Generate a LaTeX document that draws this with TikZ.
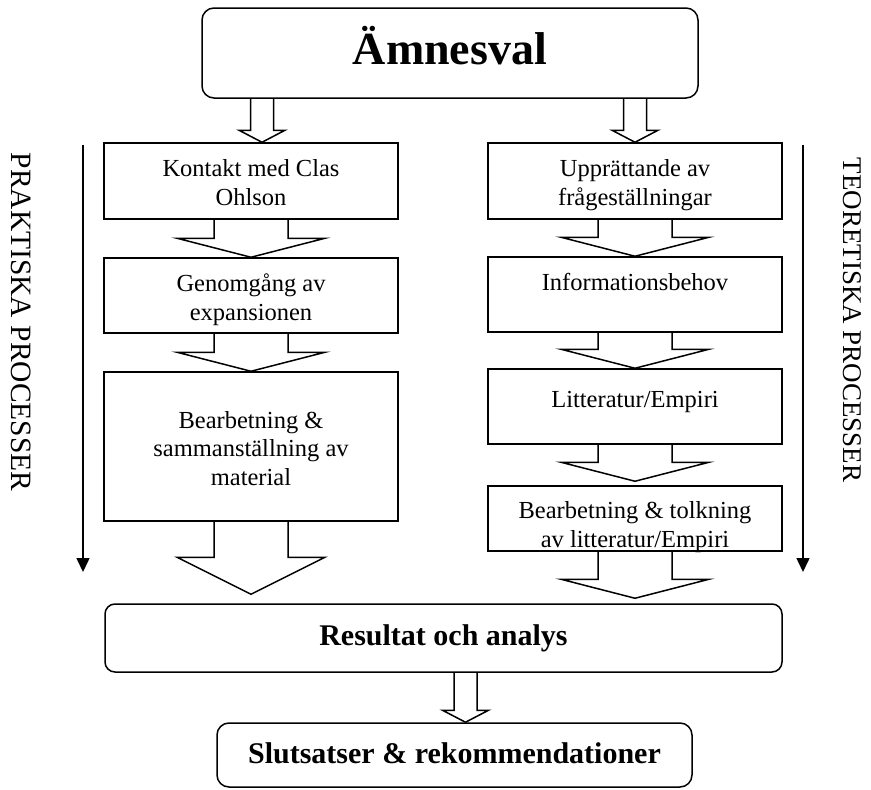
\documentclass[tikz,border=0pt]{standalone}
\usepackage{fontspec}
\setmainfont{Liberation Serif}
\usepackage{tikz}
\usetikzlibrary{calc,arrows.meta}
\pgfdeclarelayer{edgelayer}
\pgfdeclarelayer{nodelayer}
\pgfsetlayers{edgelayer,nodelayer,main}
\tikzset{shafthalf/.store in=\shafthalf, headhalf/.store in=\headhalf, headlen/.store in=\headlen}
\tikzstyle{box}=[rectangle, draw=black, fill=white, line width=1.5pt, inner sep=0pt]
\tikzstyle{roundbox}=[box, rounded corners=12pt]
\tikzstyle{boxtext}=[align=center, inner sep=0pt, anchor=base, font=\fontsize{24.5}{28.5}\selectfont]
\tikzstyle{boldtext}=[inner sep=0pt, anchor=base, font=\fontsize{30}{34}\selectfont\bfseries]
\tikzstyle{sidetext}=[inner sep=0pt, rotate=-90, font=\fontsize{28}{32}\selectfont]
\tikzstyle{timeline}=[draw=black, line width=1.5pt, -{Triangle[width=13pt,length=14pt]}]
\tikzstyle{fatarrow}=[draw=black, fill=white, line width=1.5pt, to path={let \p1=(\tikztostart), \p2=(\tikztotarget) in (\x1-\shafthalf,\y1) -- (\x1-\shafthalf,\y2+\headlen) -- (\x1-\headhalf,\y2+\headlen) -- (\x1,\y2) -- (\x1+\headhalf,\y2+\headlen) -- (\x1+\shafthalf,\y2+\headlen) -- (\x1+\shafthalf,\y1)}]
\tikzstyle{smallarrow}=[fatarrow, shafthalf=11.5pt, headhalf=23pt, headlen=12pt]
\tikzstyle{bigarrow}=[fatarrow, shafthalf=37pt, headhalf=74pt, headlen=19pt]

\begin{document}
\begin{tikzpicture}[x=1pt, y=-1pt]
	\useasboundingbox (0,0) rectangle (871,790);
	\begin{pgfonlayer}{nodelayer}
		\node [style=roundbox, minimum width=496pt, minimum height=90pt] (0) at (450,53) {};
		\node [style=box, minimum width=294pt, minimum height=76pt] (1) at (251,181) {};
		\node [style=box, minimum width=294pt, minimum height=75pt] (2) at (251,295.5) {};
		\node [style=box, minimum width=294pt, minimum height=149pt] (3) at (251,446.5) {};
		\node [style=box, minimum width=294pt, minimum height=76pt] (4) at (635,181) {};
		\node [style=box, minimum width=294pt, minimum height=75pt] (5) at (635,294.5) {};
		\node [style=box, minimum width=294pt, minimum height=75pt] (6) at (635,406.5) {};
		\node [style=box, minimum width=294pt, minimum height=65pt] (7) at (635,518.5) {};
		\node [style=roundbox, rounded corners=10pt, minimum width=677pt, minimum height=68pt] (8) at (443.5,638) {};
		\node [style=roundbox, minimum width=475pt, minimum height=64pt] (9) at (454.5,755) {};
	\end{pgfonlayer}
	% texts (base = last line)
	\node [style=boldtext, font=\fontsize{46}{50}\selectfont\bfseries] (0t) at (450,64) {Ämnesval};
	\node [style=boxtext] (1t) at (251,205) {Kontakt med Clas\\Ohlson};
	\node [style=boxtext] (2t) at (251,320) {Genomgång av\\expansionen};
	\node [style=boxtext] (3t) at (251,485) {Bearbetning \&\\sammanställning av\\material};
	\node [style=boxtext] (4t) at (635,205) {Upprättande av\\frågeställningar};
	\node [style=boxtext] (5t) at (635,290) {Informationsbehov};
	\node [style=boxtext] (6t) at (635,407) {Litteratur/Empiri};
	\node [style=boxtext] (7t) at (635,547) {Bearbetning \& tolkning\\av litteratur/Empiri};
	\node [style=boldtext] (8t) at (443.5,645) {Resultat och analys};
	\node [style=boldtext] (9t) at (454.5,763) {Slutsatser \& rekommendationer};
	\node [style=sidetext, font=\fontsize{29.5}{33}\selectfont] (10) at (21,322) {PRAKTISKA PROCESSER};
	\node [style=sidetext, font=\fontsize{27}{31}\selectfont] (11) at (852,320) {TEORETISKA PROCESSER};
	\coordinate (la) at (83,145);
	\coordinate (lb) at (83,572);
	\coordinate (ra) at (803,145);
	\coordinate (rb) at (803,572);
	\begin{pgfonlayer}{edgelayer}
		\draw [style=smallarrow] ([xshift=-188pt]0.south) to (1.north);
		\draw [style=smallarrow] ([xshift=185pt]0.south) to (4.north);
		\draw [style=bigarrow] (1.south) to (2.north);
		\draw [style=bigarrow] (2.south) to (3.north);
		\draw [style=bigarrow, headlen=37pt] (3.south) to ([yshift=9pt]8.north);
		\draw [style=bigarrow] (4.south) to (5.north);
		\draw [style=bigarrow] (5.south) to (6.north);
		\draw [style=bigarrow] (6.south) to ([yshift=4pt]7.north);
		\draw [style=bigarrow] (7.south) to ([yshift=5pt]8.north);
		\draw [style=smallarrow] ([xshift=22pt]8.south) to (9.north);
		\draw [style=timeline] (la) to (lb);
		\draw [style=timeline] (ra) to (rb);
	\end{pgfonlayer}
\end{tikzpicture}
\end{document}
